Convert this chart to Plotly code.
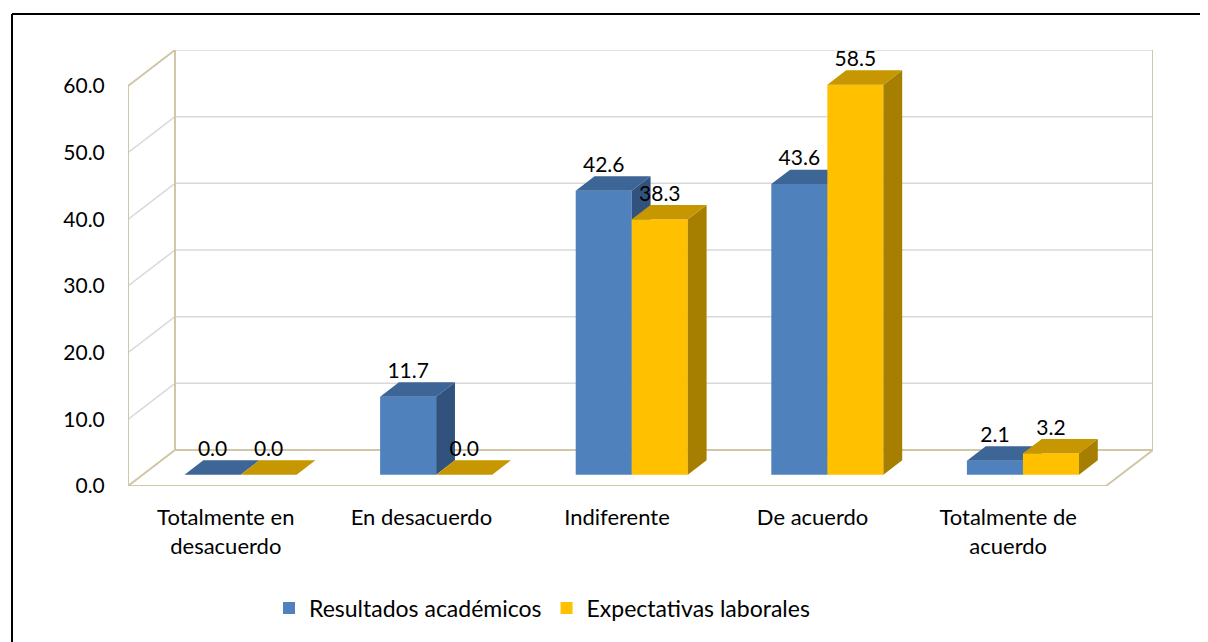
import plotly.graph_objects as go

categories = ["Totalmente en<br>desacuerdo", "En desacuerdo", "Indiferente", "De acuerdo", "Totalmente de<br>acuerdo"]
resultados = [0.0, 11.7, 42.6, 43.6, 2.1]
expectativas = [0.0, 0.0, 38.3, 58.5, 3.2]
y_ticks = [0, 10, 20, 30, 40, 50, 60]

# fake 3d: depth goes right and up
DX = 0.2404   # category units for full depth
DY = 5.4      # value units for full depth
TF = 0.314    # bar front plane
TB = 0.714    # bar back plane
W = 0.2865    # bar width
YMAX = 60

FONT = "Lato"
TAN = "#CFC7A5"
GRID = "#D9D9D9"

# the page body has an 8px margin, so the figure is drawn 8px in
PAGE = 8
FW, FH = 1208 - PAGE, 642 - PAGE


def pt(x, v, t):
  return x + t*DX, v + t*DY


def line_trace(pts, color, width):
  xs, ys = [], []
  for p in pts:
    if p is None:
      xs.append(None)
      ys.append(None)
    else:
      x, y = pt(*p)
      xs.append(x)
      ys.append(y)
  return go.Scatter(x=xs, y=ys, mode="lines", line=dict(color=color, width=width),
                    hoverinfo="skip", showlegend=False, cliponaxis=False)


fig = go.Figure()

# walls / grid (subplot 1)
x_left, x_right = -0.5, len(categories) - 0.5
grid_pts = []
for v in y_ticks[1:]:
  grid_pts += [(x_left, v, 1), (x_right, v, 1), None]
  if v < YMAX:
    grid_pts += [(x_left, v, 0), (x_left, v, 1), None]
fig.add_trace(line_trace(grid_pts, GRID, 1.5))

edge_pts = [(x_left, 0, 0), (x_right, 0, 0), (x_right, 0, 1), (x_left, 0, 1), (x_left, 0, 0), None,
            (x_left, 0, 0), (x_left, YMAX, 0), (x_left, YMAX, 1), (x_left, 0, 1), None,
            (x_right, 0, 1), (x_right, YMAX, 1)]
fig.add_trace(line_trace(edge_pts, TAN, 2))


def add_series(vals, name, off, front, top, side, ax):
  xs = [i + off + W/2 + TF*DX for i in range(len(vals))]
  fig.add_trace(go.Bar(x=xs, y=vals, base=TF*DY, width=W, name=name,
                       marker=dict(color=front, line=dict(width=0)),
                       xaxis="x"+ax, yaxis="y"+ax, hoverinfo="skip"))
  sx, sy, tx, ty = [], [], [], []
  for i, v in enumerate(vals):
    x0 = i + off
    x1 = x0 + W
    for p in [(x1, 0, TF), (x1, v, TF), (x1, v, TB), (x1, 0, TB), (x1, 0, TF)]:
      a, b = pt(*p)
      sx.append(a)
      sy.append(b)
    sx.append(None)
    sy.append(None)
    for p in [(x0, v, TF), (x1, v, TF), (x1, v, TB), (x0, v, TB), (x0, v, TF)]:
      a, b = pt(*p)
      tx.append(a)
      ty.append(b)
    tx.append(None)
    ty.append(None)
  fig.add_trace(go.Scatter(x=sx, y=sy, fill="toself", fillcolor=side, mode="lines",
                           line=dict(width=0, color=side), showlegend=False, hoverinfo="skip",
                           xaxis="x"+ax, yaxis="y"+ax))
  fig.add_trace(go.Scatter(x=tx, y=ty, fill="toself", fillcolor=top, mode="lines",
                           line=dict(width=0, color=top), showlegend=False, hoverinfo="skip",
                           xaxis="x"+ax, yaxis="y"+ax))


add_series(resultados, "Resultados académicos", -W, "#4F81BD", "#3D6595", "#32527E", "2")
add_series(expectativas, "Expectativas laborales", 0, "#FFC000", "#C69700", "#A67F00", "3")

# value labels
lx, ly, lt = [], [], []
for off, vals in [(-W, resultados), (0, expectativas)]:
  for i, v in enumerate(vals):
    lx.append(i + off + W/2 + TF*DX)
    ly.append(v + TF*DY + 3.6)
    lt.append(f"{v:.1f}")
fig.add_trace(go.Scatter(x=lx, y=ly, text=lt, mode="text", textposition="middle center",
                         textfont=dict(family=FONT, size=21, color="black"),
                         showlegend=False, hoverinfo="skip", cliponaxis=False,
                         xaxis="x3", yaxis="y3"))

xr = [x_left, x_right + DX]
yr = [0, YMAX + DY]
hidden = dict(visible=False, showgrid=False, zeroline=False)

L, R, T, B = 128 - PAGE, 1208 - 1153, 50 - PAGE, 642 - 486
pw, ph = FW - L - R, FH - T - B


def px_x(x):
  return (x - PAGE - L)/pw


def px_y(y):
  return (FH - B - (y - PAGE))/ph


fig.update_layout(
  width=FW, height=FH,
  margin=dict(l=L, r=R, t=T, b=B),
  paper_bgcolor="white", plot_bgcolor="white",
  barmode="overlay",
  font=dict(family=FONT, color="black"),
  xaxis=dict(range=xr, tickvals=list(range(len(categories))), ticktext=categories,
             showgrid=False, zeroline=False, showline=False, ticks="outside", ticklen=12,
             tickcolor="rgba(0,0,0,0)", tickfont=dict(size=22, family=FONT)),
  yaxis=dict(range=yr, tickvals=y_ticks, tickformat=".1f", showgrid=False, zeroline=False,
             showline=False, ticks="outside", ticklen=18, tickcolor="rgba(0,0,0,0)",
             tickfont=dict(size=21, family=FONT)),
  xaxis2=dict(hidden, range=xr, overlaying="x"),
  yaxis2=dict(hidden, range=yr, overlaying="y"),
  xaxis3=dict(hidden, range=xr, overlaying="x"),
  yaxis3=dict(hidden, range=yr, overlaying="y"),
  legend=dict(orientation="h", x=px_x(542), xanchor="center", y=px_y(608),
              yanchor="middle", font=dict(size=23, family=FONT), bgcolor="rgba(0,0,0,0)"),
  shapes=[
    dict(type="line", xref="paper", yref="paper", x0=px_x(12), x1=px_x(1215),
         y0=px_y(14), y1=px_y(14), line=dict(color="black", width=2)),
    dict(type="line", xref="paper", yref="paper", x0=px_x(12), x1=px_x(12),
         y0=px_y(14), y1=px_y(650), line=dict(color="black", width=2)),
  ],
)

fig.write_html("out.html")
